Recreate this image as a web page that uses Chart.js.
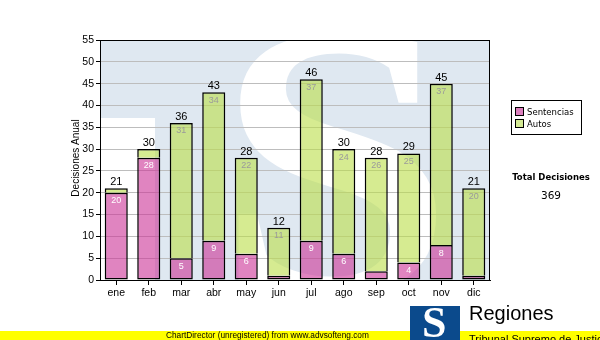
<!DOCTYPE html>
<html>
<head>
<meta charset="utf-8">
<script src="https://cdn.jsdelivr.net/npm/chart.js@4.4.1/dist/chart.umd.min.js"></script>
<style>
  body { margin: 0; background: #fff; }
  #wrap { position: relative; width: 600px; height: 340px; overflow: hidden; background: #fff; }
  #chart { position: absolute; left: 0; top: 0; }
  .legend { position: absolute; left: 511px; top: 100px; width: 71px; height: 35px; border: 1px solid #000;
            box-sizing: border-box; font: 8.5px "DejaVu Sans", sans-serif; color: #000; padding: 5px 0 0 3px; }
  .legend div { height: 12px; line-height: 12px; white-space: nowrap; }
  .legend span { display: inline-block; width: 7px; height: 7px; border: 1px solid #000; margin-right: 3px; vertical-align: -1px; }
  .total-title { position: absolute; left: 505px; top: 172px; width: 92px; text-align: center;
                 font: bold 8.5px "DejaVu Sans", sans-serif; color: #000; }
  .total-value { position: absolute; left: 505px; top: 189px; width: 92px; text-align: center;
                 font: 10.5px "DejaVu Sans", sans-serif; color: #000; }
  .footer { position: absolute; left: 0; top: 331px; width: 600px; height: 9px; background: #ffff00; }
  .footer-text { position: absolute; left: 166px; top: 330px; font: 8.3px "Liberation Sans", Arial, sans-serif; color: #000; white-space: nowrap; }
  .logo { position: absolute; left: 410px; top: 306px; width: 50px; height: 34px; background: #0b4a8c; overflow: hidden; }
  .logo b { position: absolute; left: 12px; top: -9px; font: bold 44px "Liberation Serif", serif; color: #fff; }
  .brand { position: absolute; left: 469px; top: 302px; font: 20px "Liberation Sans", Arial, sans-serif; color: #000; }
  .brand-sub { position: absolute; left: 469px; top: 333px; font: 11px "Liberation Sans", Arial, sans-serif; color: #000; white-space: nowrap; }
</style>
</head>
<body>
<div id="wrap">
  <canvas id="chart" width="600" height="340"></canvas>
  <div class="legend">
    <div><span style="background:#dc7fbe"></span>Sentencias</div>
    <div><span style="background:#d4ea94"></span>Autos</div>
  </div>
  <div class="total-title">Total Decisiones</div>
  <div class="total-value" id="total"></div>
  <div class="footer"></div>
  <div class="footer-text">ChartDirector (unregistered) from www.advsofteng.com</div>
  <div class="logo"><b>S</b></div>
  <div class="brand">Regiones</div>
  <div class="brand-sub">Tribunal Supremo de Justicia</div>
</div>
<script>
// data
var months = ['ene', 'feb', 'mar', 'abr', 'may', 'jun', 'jul', 'ago', 'sep', 'oct', 'nov', 'dic'];
var sentencias = [20, 28, 5, 9, 6, 1, 9, 6, 2, 4, 8, 1];
var autos = [1, 2, 31, 34, 22, 11, 37, 24, 26, 25, 37, 20];
var yMin = 0, yMax = 55, yStep = 5;

var totals = months.map((m, i) => sentencias[i] + autos[i]);
document.querySelector('#total').textContent = totals.reduce((a, b) => a + b, 0);

// light blue logo watermark behind the plot
var watermark = {
    id: 'watermark',
    beforeDraw(chart) {
        var a = chart.chartArea, ctx = chart.ctx;
        ctx.save();
        ctx.beginPath();
        ctx.rect(a.left, a.top, a.right - a.left, a.bottom - a.top);
        ctx.clip();
        ctx.fillStyle = '#dfe8f1';
        ctx.fillRect(a.left, a.top, a.right - a.left, a.bottom - a.top);
        ctx.fillStyle = '#ffffff';
        // big white S
        ctx.translate(335, 292);
        ctx.scale(1.1, 1);
        ctx.textAlign = 'center';
        ctx.textBaseline = 'alphabetic';
        ctx.font = 'bold 390px "Liberation Serif", serif';
        ctx.fillText('S', 0, 0);
        ctx.setTransform(1, 0, 0, 1, 0, 0);
        // white corner under the T bar
        ctx.fillRect(a.left, 118, 55, a.bottom - 118);
        ctx.restore();
    }
};

// value labels and frame
var labels = {
    id: 'labels',
    afterDatasetsDraw(chart) {
        var ctx = chart.ctx, a = chart.chartArea;
        var m0 = chart.getDatasetMeta(0), m1 = chart.getDatasetMeta(1);
        ctx.save();
        ctx.textAlign = 'center';
        ctx.textBaseline = 'middle';
        ctx.font = '9px "Liberation Sans", Arial, sans-serif';
        months.forEach((m, i) => {
            if (sentencias[i] >= 3) {
                ctx.fillStyle = '#ffffff';
                ctx.fillText(sentencias[i], m0.data[i].x, m0.data[i].y + 8);
            }
            if (autos[i] >= 3) {
                ctx.fillStyle = '#9a9a9a';
                ctx.fillText(autos[i], m1.data[i].x, m1.data[i].y + 8);
            }
        });
        ctx.font = '11px "Liberation Sans", Arial, sans-serif';
        ctx.fillStyle = '#000';
        ctx.textBaseline = 'alphabetic';
        months.forEach((m, i) => {
            ctx.fillText(totals[i], m1.data[i].x, m1.data[i].y - 3);
        });
        // plot frame
        ctx.strokeStyle = '#000';
        ctx.lineWidth = 1;
        ctx.strokeRect(Math.round(a.left) + 0.5, Math.round(a.top) + 0.5, Math.round(a.right - a.left) - 1, Math.round(a.bottom - a.top));
        // axis title
        ctx.translate(76, 158);
        ctx.rotate(-Math.PI / 2);
        ctx.textAlign = 'center';
        ctx.textBaseline = 'middle';
        ctx.font = '10px "Liberation Sans", Arial, sans-serif';
        ctx.fillText('Decisiones Anual', 0, 0);
        ctx.restore();
    }
};

new Chart(document.querySelector('#chart'), {
    type: 'bar',
    data: {
        labels: months,
        datasets: [{
            label: 'Sentencias',
            data: sentencias,
            backgroundColor: 'rgba(203, 50, 150, 0.6)',
            borderColor: '#000',
            borderWidth: 1.5,
            borderSkipped: false
        }, {
            label: 'Autos',
            data: autos,
            backgroundColor: 'rgba(186, 222, 72, 0.6)',
            borderColor: '#000',
            borderWidth: 1.5,
            borderSkipped: 'start'
        }]
    },
    options: {
        responsive: false,
        animation: false,
        layout: { padding: { top: 40, right: 110, left: 0, bottom: 0 } },
        datasets: { bar: { barPercentage: 0.71, categoryPercentage: 1 } },
        plugins: {
            legend: { display: false },
            tooltip: { enabled: false }
        },
        scales: {
            x: {
                stacked: true,
                grid: { offset: false, drawOnChartArea: false, tickLength: 5, tickColor: '#000' },
                border: { color: '#000', width: 1 },
                ticks: { color: '#000', padding: 2, font: { family: '"Liberation Sans", Arial, sans-serif', size: 10.5 } },
                afterFit: (scale) => { scale.height = 60 }
            },
            y: {
                stacked: true,
                min: yMin,
                max: yMax,
                grid: { color: '#bdbdbd', tickColor: '#000', tickLength: 4 },
                border: { color: '#000', width: 1 },
                ticks: { stepSize: yStep, color: '#000', padding: 2, font: { family: '"Liberation Sans", Arial, sans-serif', size: 10.5 } },
                afterFit: (scale) => { scale.width = 100 }
            }
        }
    },
    plugins: [watermark, labels]
});
</script>
</body>
</html>
